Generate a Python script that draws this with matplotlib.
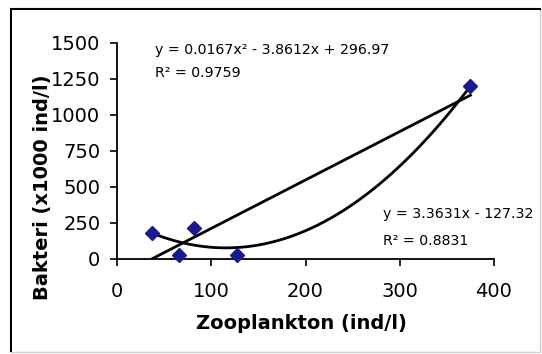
import numpy as np
import matplotlib
matplotlib.use("Agg")
import matplotlib.pyplot as plt
from matplotlib.lines import Line2D
from matplotlib.patches import Rectangle

# Data
zooplankton = [37, 66, 82, 127, 375]
bakteri = [175, 25, 215, 25, 1200]

# Trendline coefficients as printed on the chart
poly_coef = [0.0167, -3.8612, 296.97]
lin_coef = [3.3631, -127.32]
eq_poly = "y = 0.0167x\u00b2 - 3.8612x + 296.97"
r2_poly = "R\u00b2 = 0.9759"
eq_lin = "y = 3.3631x - 127.32"
r2_lin = "R\u00b2 = 0.8831"

x_ticks = [0, 100, 200, 300, 400]
y_ticks = [0, 250, 500, 750, 1000, 1250, 1500]

W, H = 542, 354
plt.rcParams['font.family'] = ['DejaVu Sans']
fig = plt.figure(figsize=(W / 100, H / 100), dpi=100)
fig.patch.set_facecolor('white')

def fx(px):
    return px / W

def fy(py):
    return 1 - py / H

# Chart frame: dark top/left, light bottom/right
fig.add_artist(Rectangle((fx(10), fy(352)), fx(530), 344 / H, transform=fig.transFigure,
                         facecolor='none', edgecolor='#d0d0d0', lw=1.0, zorder=0))
fig.add_artist(Rectangle((fx(10), fy(10)), fx(531), 2.2 / H, transform=fig.transFigure,
                         facecolor='black', edgecolor='none', zorder=1))
fig.add_artist(Rectangle((fx(10), fy(352)), fx(2.2), 344 / H, transform=fig.transFigure,
                         facecolor='black', edgecolor='none', zorder=1))

ax = fig.add_axes([fx(117), fy(258.5), (494 - 117) / W, (258.5 - 42.5) / H])
ax.patch.set_alpha(0)
ax.set_xlim(0, 400)
ax.set_ylim(0, 1500)
ax.set_xticks(x_ticks)
ax.set_yticks(y_ticks)
for s in ['top', 'right']:
    ax.spines[s].set_visible(False)
for s in ['left', 'bottom']:
    ax.spines[s].set_linewidth(1.3)
    ax.spines[s].set_color('black')
ax.tick_params(axis='both', direction='out', length=5, width=1.2, labelsize=14, colors='black')
ax.tick_params(axis='y', pad=7)
ax.tick_params(axis='x', pad=12)

xs = np.linspace(min(zooplankton), max(zooplankton), 300)
ax.plot(xs, np.polyval(poly_coef, xs), color='black', lw=2.0, zorder=2)
ax.plot(xs, np.polyval(lin_coef, xs), color='black', lw=2.0, zorder=2)
ax.plot(zooplankton, bakteri, linestyle='none', marker='D', markersize=7,
        color='#1a1a8c', markeredgecolor='#1a1a8c', zorder=3, clip_on=False)

# Equation labels
fs_eq = 10.2
fig.text(fx(155), fy(54), eq_poly, fontsize=fs_eq, va='baseline', ha='left')
fig.text(fx(155), fy(77), r2_poly, fontsize=fs_eq, va='baseline', ha='left')
fig.text(fx(383), fy(218), eq_lin, fontsize=fs_eq, va='baseline', ha='left')
fig.text(fx(383), fy(245), r2_lin, fontsize=fs_eq, va='baseline', ha='left')

# Axis titles
fig.text(fx(301.5), fy(329), "Zooplankton (ind/l)", fontsize=14, fontweight='bold',
         ha='center', va='baseline')
fig.text(fx(43), fy(187.5), "Bakteri (x1000 ind/l)", fontsize=14, fontweight='bold',
         rotation=90, ha='center', va='center')

fig.savefig('out.png', dpi=100)
